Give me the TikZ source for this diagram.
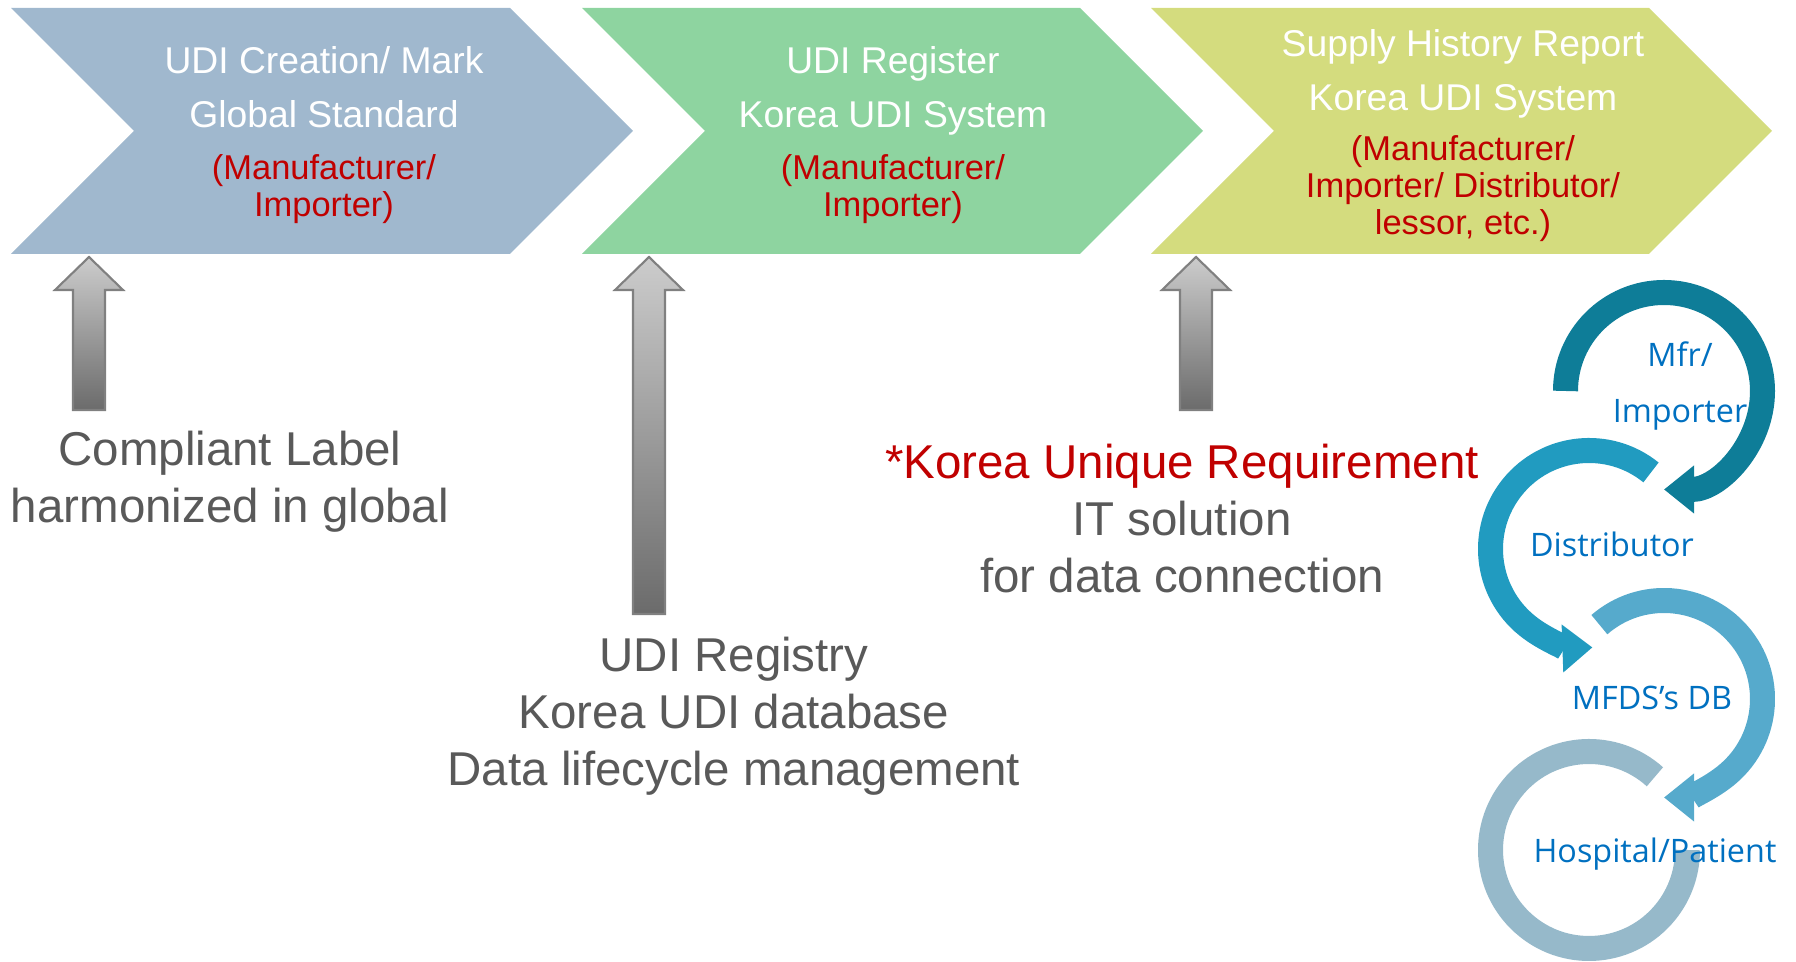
\documentclass[tikz,border=0pt]{standalone}
\usepackage{fontspec}
\setmainfont{Liberation Sans}
\newfontfamily\segoe{Open Sans}
\usetikzlibrary{positioning}
\usetikzlibrary{arrows.meta}

\definecolor{chevblue}{RGB}{160,184,206}
\definecolor{chevgreen}{RGB}{142,212,160}
\definecolor{chevlime}{RGB}{212,220,126}
\definecolor{darkred}{RGB}{192,0,0}
\definecolor{textgray}{RGB}{89,89,89}
\definecolor{labelblue}{RGB}{0,112,192}
\definecolor{ringA}{RGB}{14,125,152}
\definecolor{ringB}{RGB}{33,155,192}
\definecolor{ringC}{RGB}{86,170,204}
\definecolor{ringD}{RGB}{150,185,202}

\begin{document}
\begin{tikzpicture}[x=0.01cm,y=0.01cm,>={Triangle[length=0.3cm,width=0.46cm]}]
    \tikzset{title/.style={text=white, align=center, font=\fontsize{10.6}{15.2}\selectfont},
             note/.style={text=darkred, align=center, font=\fontsize{9.8}{10.5}\selectfont},
             caption/.style={text=textgray, align=center, font=\fontsize{13.5}{16.2}\selectfont},
             ring/.style={line width=0.25cm},
             ringlabel/.style={text=labelblue, align=center, font=\segoe\fontsize{9.2}{15.9}\selectfont},
             uparrow/.style={draw=black!50, line width=0.6pt, top color=black!20, bottom color=black!58},}
    \useasboundingbox (0,0) rectangle (1796,-962);

    % chevrons
    \fill[chevblue]  (11,-8) -- (510,-8) -- (633,-131) -- (510,-254) -- (11,-254) -- (134,-131) -- cycle;
    \fill[chevgreen] (582,-8) -- (1080,-8) -- (1203,-131) -- (1080,-254) -- (582,-254) -- (705,-131) -- cycle;
    \fill[chevlime]  (1151,-8) -- (1649,-8) -- (1772,-131) -- (1649,-254) -- (1151,-254) -- (1274,-131) -- cycle;

    \node [title] (t1) at (324,-87) {UDI Creation/ Mark\\Global Standard};
    \node [note]  (n1) at (324,-189) {(Manufacturer/\\Importer)};
    \node [title] (t2) at (893,-91) {UDI Register\\Korea UDI System};
    \node [note]  (n2) at (893,-189) {(Manufacturer/\\Importer)};
    \node [title] (t3) at (1463,-74) {Supply History Report\\Korea UDI System};
    \node [note]  (n3) at (1463,-189) {(Manufacturer/\\Importer/ Distributor/\\lessor, etc.)};

    % up arrows
    \shade[uparrow] (89,-257) -- (123,-290) -- (105,-290) -- (105,-410) -- (73,-410) -- (73,-290) -- (55,-290) -- cycle;
    \shade[uparrow] (649,-257) -- (683,-290) -- (665,-290) -- (665,-614) -- (633,-614) -- (633,-290) -- (615,-290) -- cycle;
    \shade[uparrow] (1196,-257) -- (1230,-290) -- (1212,-290) -- (1212,-410) -- (1180,-410) -- (1180,-290) -- (1162,-290) -- cycle;

    \node [caption] (c1) at (230,-482) {Compliant Label\\harmonized in global};
    \node [caption] (c2) at (734,-716) {UDI Registry\\Korea UDI database\\Data lifecycle management};
    \node [caption] (c3) at (1182,-519) {{\color{darkred}*Korea Unique Requirement}\\IT solution\\for data connection};

    % supply cycle
    \draw[ring, ringD] (1589,-850) ++(48:98.5) arc[start angle=48, end angle=360, radius=98.5];
    \draw[ring, ringC, ->] (1664,-699) ++(131:98.5) arc[start angle=131, end angle=-90, radius=98.5];
    \draw[ring, ringB, ->] (1589,-549) ++(51:98.5) arc[start angle=51, end angle=272, radius=98.5];
    \draw[ring, ringA, ->] (1664,-391) ++(180:98.5) arc[start angle=180, end angle=-90, radius=98.5];

    \node [ringlabel] (m1) at (1680,-386) {Mfr/\\Importer};
    \node [ringlabel] (m2) at (1612,-544) {Distributor};
    \node [ringlabel] (m3) at (1652,-698) {MFDS’s DB};
    \node [ringlabel] (m4) at (1655,-854) {Hospital/Patient};
\end{tikzpicture}
\end{document}
